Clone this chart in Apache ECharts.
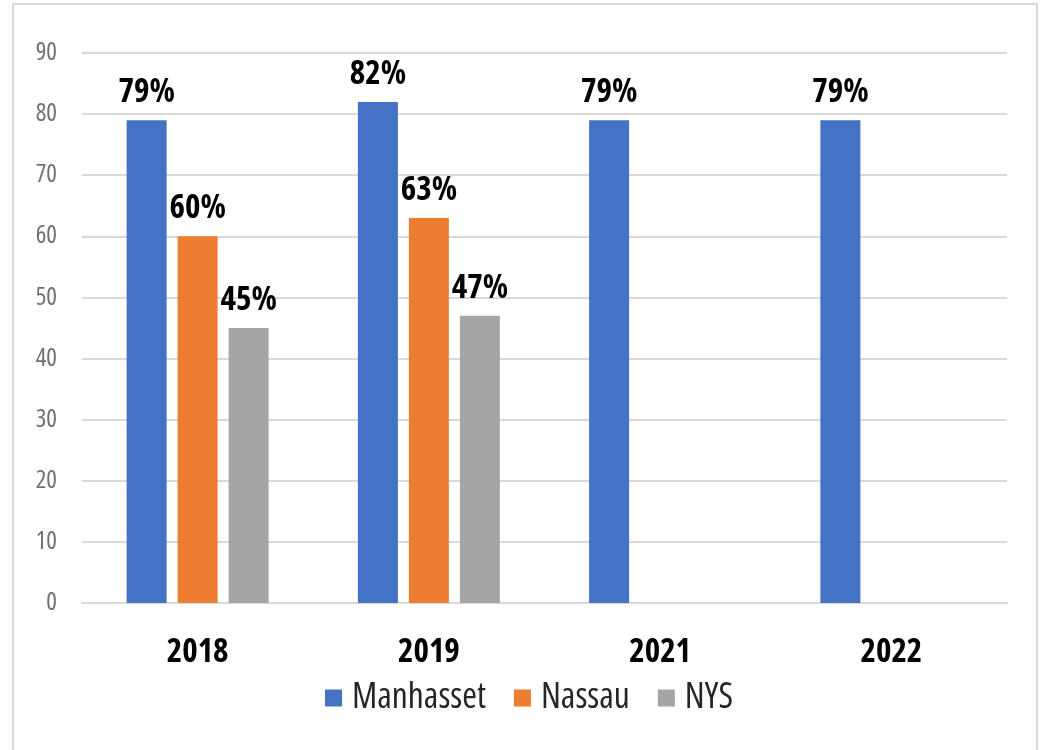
<!DOCTYPE html>
<html>
<head>
<meta charset="utf-8">
<script src="https://cdn.jsdelivr.net/npm/echarts@6/dist/echarts.min.js"></script>
<style>
html,body{margin:0;padding:0;background:#fff;}
#chart{width:1043px;height:750px;}
</style>
</head>
<body>
<div id="chart"></div>
<script>
var categories = ['2018', '2019', '2021', '2022'];
var manhasset = [79, 82, 79, 79];
var nassau = [60, 63, null, null];
var nys = [45, 47, null, null];
var seriesNames = ['Manhasset', 'Nassau', 'NYS'];
var yTicks = [0, 10, 20, 30, 40, 50, 60, 70, 80, 90];

var FONT = "'Open Sans', 'DejaVu Sans Condensed', sans-serif";
var STRETCH = 'condensed';
var chart = echarts.init(document.getElementById('chart'));

function barSeries(name, data, color) {
  return {
    name: name,
    type: 'bar',
    data: data,
    barWidth: 40,
    barGap: '27.5%',
    itemStyle: { color: color },
    label: {
      show: true,
      position: 'top',
      distance: 11,
      formatter: '{c}%',
      fontStyle: STRETCH,
      fontFamily: FONT,
      fontWeight: 'bold',
      fontSize: 33,
      color: '#000'
    }
  };
}

chart.setOption({
  animation: false,
  backgroundColor: '#fff',
  graphic: [{
    type: 'rect',
    shape: { x: 13, y: 4, width: 1024, height: 800 },
    style: { fill: 'none', stroke: '#d9d9d9', lineWidth: 2 },
    silent: true
  }],
  grid: { left: 82, right: 36, top: 53, bottom: 147, containLabel: false },
  legend: {
    data: seriesNames,
    left: 325,
    top: 680,
    padding: 0,
    itemWidth: 17,
    itemHeight: 17,
    itemGap: 28,
    icon: 'rect',
    textStyle: { fontStyle: STRETCH, fontFamily: FONT, fontSize: 35.5, color: '#262626', padding: [0, 0, 0, 5] }
  },
  xAxis: {
    type: 'category',
    data: categories,
    axisLine: { show: true, lineStyle: { color: '#d9d9d9', width: 2 } },
    axisTick: { show: false },
    axisLabel: { fontStyle: STRETCH, fontFamily: FONT, fontWeight: 'bold', fontSize: 33, color: '#000', margin: 33 }
  },
  yAxis: {
    type: 'value',
    min: yTicks[0],
    max: yTicks[yTicks.length - 1],
    interval: yTicks[1] - yTicks[0],
    axisLine: { show: false },
    axisTick: { show: false },
    splitLine: { lineStyle: { color: '#d9d9d9', width: 2 } },
    axisLabel: { fontStyle: STRETCH, fontFamily: FONT, fontSize: 25, color: '#707070', margin: 25 }
  },
  series: [
    barSeries(seriesNames[0], manhasset, '#4472C4'),
    barSeries(seriesNames[1], nassau, '#ED7D31'),
    barSeries(seriesNames[2], nys, '#A5A5A5')
  ]
});
</script>
</body>
</html>
